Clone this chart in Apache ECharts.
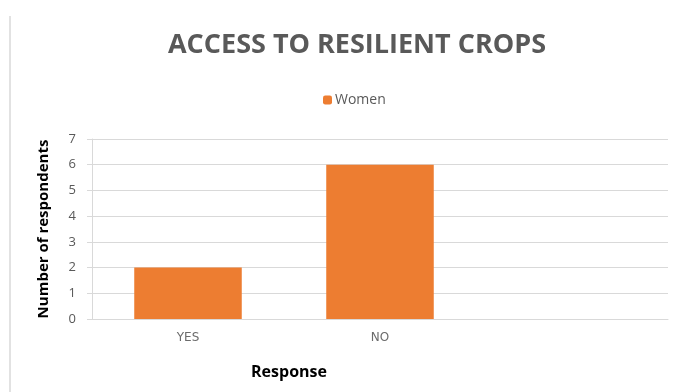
<!DOCTYPE html>
<html>
<head>
<meta charset="utf-8">
<script src="https://cdn.jsdelivr.net/npm/echarts@6/dist/echarts.min.js"></script>
<style>
  html, body { margin: 0; padding: 0; background: #fff; }
  #chart { width: 683px; height: 392px; }
</style>
</head>
<body>
<div id="chart"></div>
<script>
// Survey responses: access to resilient crops
const categories = ['YES', 'NO', ''];
const women = [2, 6, null];
const yTicks = { min: 0, max: 7, interval: 1 };

const textGray = '#595959';
const font = '"Open Sans", Lato, sans-serif';

const chart = echarts.init(document.getElementById('chart'));
chart.setOption({
  animation: false,
  title: {
    text: 'ACCESS TO RESILIENT CROPS',
    left: 352,
    textAlign: 'center',
    top: 27,
    textStyle: { fontFamily: font, fontSize: 27, fontWeight: 'bold', color: textGray }
  },
  legend: {
    data: ['Women'],
    left: 318,
    top: 88,
    itemWidth: 9,
    itemHeight: 9,
    itemGap: 4,
    textStyle: { fontFamily: font, fontSize: 14, color: textGray, padding: [0, 0, 0, -2] }
  },
  grid: { left: 92, right: 15, top: 139, bottom: 73 },
  xAxis: {
    type: 'category',
    data: categories,
    name: 'Response',
    nameLocation: 'middle',
    nameGap: 45,
    nameTextStyle: { fontFamily: font, fontSize: 16, fontWeight: 'bold', color: '#000', padding: [0, 0, 0, -182] },
    axisLine: { lineStyle: { color: '#D9D9D9', width: 1 } },
    axisTick: { show: false },
    axisLabel: { fontFamily: '"DejaVu Sans", sans-serif', fontSize: 12, color: '#6b6b6b', margin: 13 }
  },
  yAxis: {
    type: 'value',
    min: yTicks.min,
    max: yTicks.max,
    interval: yTicks.interval,
    name: 'Number of respondents',
    nameLocation: 'middle',
    nameGap: 41,
    nameTextStyle: { fontFamily: font, fontSize: 15, fontWeight: 'bold', color: '#000' },
    axisLine: { show: true, lineStyle: { color: '#D9D9D9', width: 1 } },
    axisTick: { show: true, length: 5, lineStyle: { color: '#D9D9D9' } },
    axisLabel: { fontFamily: font, fontSize: 13, color: textGray, margin: 16 },
    splitLine: { lineStyle: { color: '#D9D9D9', width: 1 } }
  },
  series: [{
    name: 'Women',
    type: 'bar',
    data: women,
    barWidth: '56%',
    itemStyle: { color: '#ED7D31' }
  }],
  graphic: [{
    type: 'line',
    shape: { x1: 10, y1: 16, x2: 10, y2: 392 },
    style: { stroke: '#D9D9D9', lineWidth: 1.5 }
  }]
});
</script>
</body>
</html>
